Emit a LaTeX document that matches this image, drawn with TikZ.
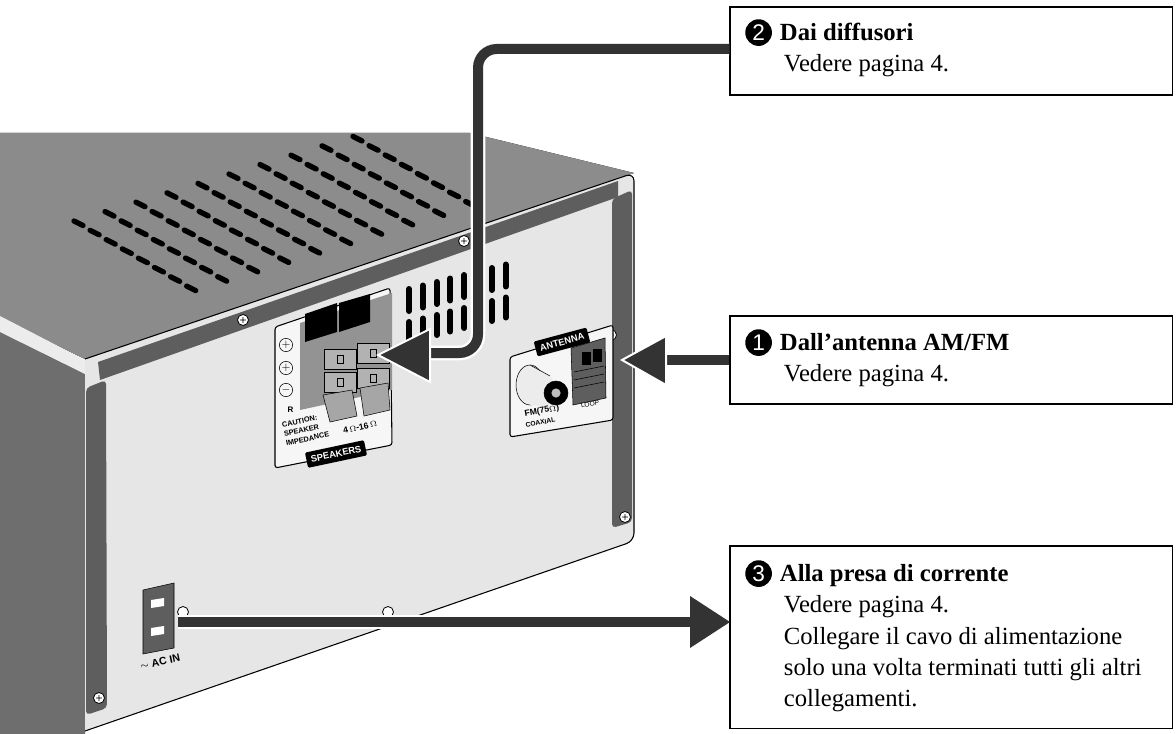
\documentclass[tikz,border=0pt]{standalone}
\usepackage{fontspec}
\setmainfont{Liberation Serif}
\setsansfont{Liberation Sans}
\usetikzlibrary{arrows.meta,positioning}
\definecolor{topgray}{HTML}{8C8C8C}
\definecolor{sidegray}{HTML}{6E6E6E}
\definecolor{panel}{HTML}{E6E6E6}
\definecolor{rail}{HTML}{5E5E5E}
\definecolor{cablec}{HTML}{333333}
\newcommand{\numdot}[1]{\tikz[baseline=(d.base)]\node[circle,fill=black,inner sep=0pt,minimum size=20pt,text=white,font=\sffamily\fontsize{17}{17}\selectfont](d){#1};\hspace*{6pt}}
\tikzset{
  note/.style={draw,line width=1.2pt,fill=white,minimum width=332pt,anchor=north west,inner sep=0pt},
  notetext/.style={anchor=north west,align=left,inner sep=0pt,font=\fontsize{18.5}{23.5}\selectfont},
  cable/.style={cablec,line width=7.5pt},
  head/.style={fill=cablec},
  screw/.style={draw=black,fill=white,line width=0.6pt},
  slot/.style={line width=4pt,line cap=round,black}
}
\begin{document}
\begin{tikzpicture}[x=0.75pt,y=-0.75pt]
\useasboundingbox (0,0) rectangle (1176,734);
% cabinet top and side
\fill[left color=sidegray!80!white,right color=topgray] (0,133) -- (470,133) -- (634,173) -- (85,359) -- (0,318) -- cycle;
\fill[sidegray] (0,330) -- (85,372) -- (85,734) -- (0,734) -- cycle;
\fill[white!85!gray] (0,316) -- (85,360) -- (85,374) -- (0,332) -- cycle;
% vent slots on top
\foreach \i in {0,...,7}
  \foreach \j in {0,...,9}
    \draw[slot] ({74+16.1*\i+31*\j},{221+9.3*\i-9.4*\j}) -- ++(9,4.5);
% rear panel
\fill[panel,draw=black,line width=0.8pt,rounded corners=6pt] (85,359) -- (634,173) -- (634,541) -- (85,731);
\fill[rail] (98,362) -- (618,181) -- (618,197) -- (100,380) -- cycle;
\fill[rail,rounded corners=3pt] (86,388) -- (106,380) -- (107,708) -- (86,715) -- cycle;
\fill[rail,rounded corners=3pt] (612,199) -- (632,190) -- (632,522) -- (612,528) -- cycle;
% vertical vent slots
\foreach \k in {0,...,7} {
  \draw[line width=4.5pt,line cap=round] ({409+13.8*\k},{311-3.5*\k}) -- ++(0,-22);
  \draw[line width=4.5pt,line cap=round] ({409+13.8*\k},{342-3.5*\k}) -- ++(0,-20);
}
% screws and holes
\foreach \p in {(243,320),(464,241),(625,517),(99,698),(382,309),(611,335),(548,364)}
  \draw[screw] \p circle (5.5) ++(-3,0) -- ++(6,0) ++(-3,-3) -- ++(0,6);
\foreach \p in {(183,612),(388,612)}
  \draw[screw] \p circle (5.5);
% speaker terminal panel
\draw[fill=white!93!gray,line width=0.8pt,rounded corners=2pt] (275,327) -- (390,288) -- (392,445) -- (275,468) -- cycle;
\fill[gray!85] (300,323) -- (392,293) -- (392,390) -- (300,410) -- cycle;
\fill[black] (305,314) -- (337,303) -- (337,332) -- (305,342) -- cycle;
\fill[black] (339,303) -- (370,294) -- (370,322) -- (339,332) -- cycle;
\foreach \x/\y in {340/359,373/353,340/382,373/378}
  \draw[fill=gray!60] (\x-16,\y-10) rectangle (\x+16,\y+10) (\x-3,\y-4) rectangle (\x+3,\y+4);
\fill[gray!70,draw=black] (323,395) -- (352,390) -- (357,416) -- (330,422) -- cycle;
\fill[gray!70,draw=black] (360,388) -- (388,383) -- (390,410) -- (364,416) -- cycle;
\foreach \y/\s in {345/+,368/+,390/-}
  \node[draw,circle,inner sep=0pt,minimum size=10pt,font=\sffamily\fontsize{8}{8}\selectfont] (pol\y) at (286,\y) {$\s$};
\node[font=\sffamily\bfseries\fontsize{6}{6}\selectfont,anchor=west] (rch) at (283,410) {R};
\node[font=\sffamily\bfseries\fontsize{5.5}{7}\selectfont,align=left,rotate=12,anchor=north west] (caution) at (276,419) {CAUTION:\\SPEAKER\\IMPEDANCE};
\node[font=\sffamily\bfseries\fontsize{6.5}{6.5}\selectfont,rotate=12] (imp) at (360,427) {4\,$\Omega$-16\,$\Omega$};
\node[fill=black,text=white,font=\sffamily\bfseries\fontsize{7}{7}\selectfont,rotate=12,rounded corners=1pt] (spk) at (336,454) {SPEAKERS};
% antenna panel
\draw[fill=white!93!gray,line width=0.8pt,rounded corners=2pt] (510,357) -- (613,325) -- (613,420) -- (510,437) -- cycle;
\node[fill=black,text=white,font=\sffamily\bfseries\fontsize{7}{7}\selectfont,rotate=15,rounded corners=1pt] (ant) at (562,342) {ANTENNA};
\draw[fill=white!85!gray] (530,385) ellipse (14 and 20);
\fill[white!85!gray] (530,365) -- (552,378) -- (560,408) -- (530,405) -- cycle;
\draw (530,365) -- (550,376);
\draw[fill=black] (556,393) circle (12);
\draw[fill=gray!50] (556,393) circle (5);
\fill[rail,draw=black] (571,348) -- (605,338) -- (606,398) -- (573,405) -- cycle;
\draw[fill=black] (582,352) rectangle (590,364) (593,349) rectangle (601,361);
\draw (574,372) -- (604,366) (574,380) -- (604,374) (574,388) -- (604,382);
\node[font=\sffamily\bfseries\fontsize{6.5}{6.5}\selectfont,rotate=10,anchor=west] (fm) at (520,415) {FM(75$\Omega$)};
\node[font=\sffamily\bfseries\fontsize{5}{5}\selectfont,rotate=10,anchor=west] (coax) at (521,426) {COAXIAL};
\node[font=\sffamily\fontsize{5}{5}\selectfont,rotate=10] (loop) at (590,404) {LOOP};
% AC inlet
\fill[rail,draw=black] (143,590) -- (174,583) -- (174,648) -- (143,654) -- cycle;
\fill[white] (151,600) -- (164,598) -- (164,606) -- (151,608) -- cycle (151,628) -- (164,626) -- (164,634) -- (151,636) -- cycle;
\node[font=\sffamily\bfseries\fontsize{8}{8}\selectfont,rotate=12] (acin) at (160,662) {$\sim$ AC IN};
% callout boxes
\node[note,minimum height=66pt] (box2) at (729,6) {};
\node[note,minimum height=66pt] (box1) at (729,315) {};
\node[note,minimum height=137pt] (box3) at (729,545) {};
\node[notetext] (t2) at (745,19) {\numdot{2}\textbf{Dai diffusori}\\\hspace*{29pt}Vedere pagina 4.};
\node[notetext] (t1) at (745,329) {\numdot{1}\textbf{Dall’antenna AM/FM}\\\hspace*{29pt}Vedere pagina 4.};
\node[notetext] (t3) at (745,560) {\numdot{3}\textbf{Alla presa di corrente}\\\hspace*{29pt}Vedere pagina 4.\\\hspace*{29pt}Collegare il cavo di alimentazione\\\hspace*{29pt}solo una volta terminati tutti gli altri\\\hspace*{29pt}collegamenti.};
% connectors
\coordinate (spkend) at (378,355);
\coordinate (antend) at (622,360);
\coordinate (acstart) at (178,622);
\coordinate (acend) at (730,622);
\draw[white,line width=11pt,rounded corners=14pt] (box2.west|-0,49) -- (478,49) -- (478,353) -- (430,353);
\draw[cable,rounded corners=14pt] (box2.west|-0,49) -- (478,49) -- (478,353) -- (430,353);
\fill[head,draw=white,line width=1.5pt] (spkend) -- ++(52,-26) -- ++(0,53) -- cycle;
\draw[cable] (box1.west|-antend) -- (664,360);
\fill[head,draw=white,line width=1.5pt] (antend) -- ++(44,-24) -- ++(0,49) -- cycle;
\draw[white,line width=11pt] (acstart) -- (690,622);
\draw[cable] (acstart) -- (692,622);
\fill[head] (acend) -- ++(-40,-26) -- ++(0,52) -- cycle;
\end{tikzpicture}
\end{document}
